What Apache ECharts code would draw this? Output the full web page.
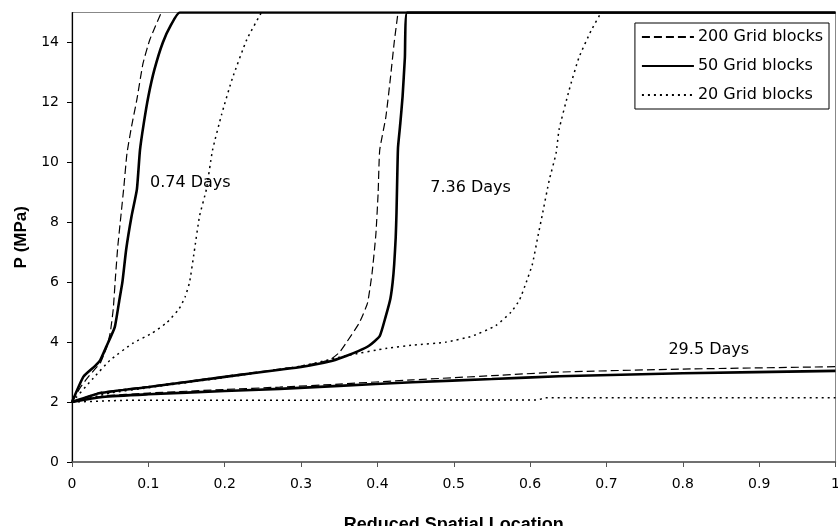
<!DOCTYPE html>
<html>
<head>
<meta charset="utf-8">
<script src="https://cdn.jsdelivr.net/npm/echarts@6/dist/echarts.min.js"></script>
<style>
  html, body { margin: 0; padding: 0; background: #fff; }
  #chart { width: 838px; height: 526px; }
</style>
</head>
<body>
<div id="chart"></div>
<script>
// grid names (legend)
var g200 = '200 Grid blocks';
var g50 = '50 Grid blocks';
var g20 = '20 Grid blocks';

var yTicks = [0, 2, 4, 6, 8, 10, 12, 14];

// 0.74 days  [reduced location, P (MPa)]
var d074_200 = [[0,2],[0.01,2.45],[0.02,2.8],[0.03,3.1],[0.037,3.3],[0.045,3.8],[0.05,4.3],[0.054,5.1],[0.057,6.2],[0.06,7.2],[0.064,8.2],[0.068,9.2],[0.072,10.3],[0.078,11.2],[0.085,12.1],[0.093,13.3],[0.102,14.1],[0.117,15]];
var d074_50 = [[0,2],[0.015,2.85],[0.03,3.2],[0.037,3.4],[0.045,3.85],[0.056,4.5],[0.062,5.4],[0.066,6.0],[0.071,7.1],[0.078,8.2],[0.085,9.1],[0.089,10.4],[0.094,11.3],[0.1,12.2],[0.108,13.1],[0.119,14.0],[0.13,14.6],[0.141,15],[1,15]];
var d074_20 = [[0,2],[0.028,2.8],[0.05,3.4],[0.08,3.97],[0.105,4.3],[0.124,4.65],[0.14,5.1],[0.148,5.5],[0.154,6.0],[0.16,7.0],[0.167,8.2],[0.176,9.1],[0.184,10.4],[0.196,11.6],[0.21,12.8],[0.229,14.1],[0.248,15]];

// 7.36 days
var d736_200 = [[0,2],[0.037,2.32],[0.1,2.52],[0.2,2.86],[0.272,3.1],[0.3,3.2],[0.337,3.4],[0.35,3.65],[0.359,3.97],[0.376,4.63],[0.387,5.3],[0.393,6.3],[0.398,7.6],[0.401,9.0],[0.403,10.4],[0.411,11.5],[0.417,12.8],[0.422,14.0],[0.427,15]];
var d736_50 = [[0,2],[0.037,2.3],[0.1,2.5],[0.2,2.84],[0.272,3.08],[0.3,3.17],[0.337,3.35],[0.359,3.54],[0.375,3.7],[0.389,3.88],[0.403,4.2],[0.411,4.87],[0.417,5.45],[0.42,6.0],[0.422,6.6],[0.424,7.5],[0.425,8.3],[0.426,9.5],[0.427,10.5],[0.43,11.3],[0.433,12.2],[0.436,13.5],[0.439,15],[1,15]];
var d736_20 = [[0,2],[0.05,2.3],[0.1,2.48],[0.2,2.82],[0.3,3.2],[0.36,3.55],[0.413,3.8],[0.447,3.9],[0.49,4.0],[0.524,4.2],[0.555,4.55],[0.575,5.0],[0.586,5.4],[0.595,6.0],[0.603,6.6],[0.61,7.5],[0.616,8.25],[0.625,9.4],[0.634,10.3],[0.638,11.1],[0.651,12.4],[0.664,13.5],[0.68,14.4],[0.693,15]];

// 29.5 days
var d295_200 = [[0,2],[0.04,2.2],[0.1,2.3],[0.2,2.42],[0.272,2.5],[0.35,2.6],[0.446,2.74],[0.55,2.88],[0.638,3.0],[0.8,3.1],[1,3.18]];
var d295_50 = [[0,2],[0.04,2.17],[0.1,2.26],[0.2,2.37],[0.272,2.44],[0.35,2.54],[0.446,2.66],[0.55,2.77],[0.638,2.86],[0.8,2.96],[1,3.04]];
var d295_20 = [[0,2],[0.07,2.06],[0.61,2.07],[0.62,2.14],[1,2.14]];

// curve labels [text, x, P]
var dayLabels = [['0.74 Days', 0.155, 9.3], ['7.36 Days', 0.522, 9.16], ['29.5 Days', 0.834, 3.74]];

var font = 'DejaVu Sans';
var boldFont = 'Liberation Sans';
var chart = echarts.init(document.getElementById('chart'));

var styles = {};
styles[g200] = { color: '#000', width: 1.2, type: [8, 4] };
styles[g50] = { color: '#000', width: 2.6, type: 'solid' };
styles[g20] = { color: '#000', width: 1.5, type: [2, 4] };

function line(name, data, smooth) {
  return {
    name: name,
    type: 'line',
    data: data,
    symbol: 'none',
    smooth: smooth,
    lineStyle: styles[name],
    itemStyle: { color: '#000' },
    emphasis: { disabled: true },
    silent: true
  };
}

var series = [
  line(g200, d074_200, 0.15), line(g50, d074_50, 0.15), line(g20, d074_20, 0.15),
  line(g200, d736_200, 0.15), line(g50, d736_50, 0.15), line(g20, d736_20, 0.15),
  line(g200, d295_200, 0.2), line(g50, d295_50, 0.2), line(g20, d295_20, false)
];

series[0].markPoint = {
  symbol: 'circle',
  symbolSize: 0,
  silent: true,
  label: {
    show: true,
    position: 'inside',
    color: '#000',
    fontFamily: font,
    fontSize: 16,
    formatter: '{b}'
  },
  data: dayLabels.map(function (d) { return { name: d[0], coord: [d[1], d[2]] }; })
};

var option = {
  animation: false,
  backgroundColor: '#fff',
  grid: {
    left: 72, right: 2.5, top: 12.5, bottom: 64,
    outerBoundsMode: 'none',
    containLabel: false,
    show: true, borderColor: '#888', borderWidth: 1
  },
  legend: {
    data: [g200, g50, g20],
    orient: 'vertical',
    right: 9,
    top: 23,
    itemWidth: 52,
    itemHeight: 14,
    itemGap: 13,
    padding: [6, 6, 6, 6],
    backgroundColor: '#fff',
    borderColor: '#000',
    borderWidth: 1,
    borderRadius: 0,
    itemStyle: { opacity: 0 },
    textStyle: { color: '#000', fontFamily: font, fontSize: 16, padding: [0, 0, 0, -1] }
  },
  xAxis: {
    type: 'value',
    min: 0,
    max: 1,
    interval: 0.1,
    name: 'Reduced Spatial Location',
    nameLocation: 'middle',
    nameGap: 54,
    nameTextStyle: { color: '#000', fontFamily: boldFont, fontSize: 18, fontWeight: 'bold' },
    axisLine: { lineStyle: { color: '#555', width: 1.5 } },
    axisTick: { length: 5, lineStyle: { color: '#555' } },
    axisLabel: { color: '#000', fontFamily: font, fontSize: 14, margin: 15 },
    splitLine: { show: false }
  },
  yAxis: {
    type: 'value',
    min: 0,
    max: 15,
    interval: 2,
    name: 'P (MPa)',
    nameLocation: 'middle',
    nameGap: 40,
    nameTextStyle: { color: '#000', fontFamily: boldFont, fontSize: 17, fontWeight: 'bold' },
    axisLine: { show: true, lineStyle: { color: '#000', width: 1.2 } },
    axisTick: { show: true, length: 5, customValues: yTicks, lineStyle: { color: '#000' } },
    axisLabel: { color: '#000', fontFamily: font, fontSize: 14, margin: 13, customValues: yTicks },
    splitLine: { show: false }
  },
  series: series
};

chart.setOption(option);
</script>
</body>
</html>
